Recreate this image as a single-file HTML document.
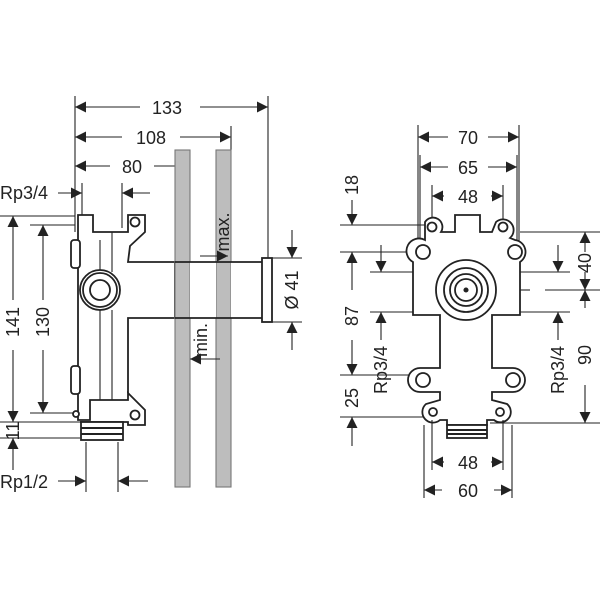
<!DOCTYPE html>
<html><head><style>
html,body{margin:0;padding:0;background:#fff;}
svg{display:block;}
text{font-family:"Liberation Sans",sans-serif;font-size:18px;fill:#222;}
</style></head><body>
<svg width="600" height="600" viewBox="0 0 600 600" xmlns="http://www.w3.org/2000/svg">
<defs>
<marker id="a" viewBox="0 0 10 10" refX="10" refY="5" markerWidth="14" markerHeight="11" orient="auto-start-reverse" markerUnits="userSpaceOnUse">
<path d="M0,0 L10,5 L0,10 z" fill="#222"/></marker>
</defs>
<g stroke="#222" stroke-width="1.1" fill="none">
<line x1="75" y1="96" x2="75" y2="232"/>
<line x1="268" y1="96" x2="268" y2="262"/>
<line x1="231" y1="126" x2="231" y2="150"/>
<line x1="82" y1="183" x2="82" y2="228"/>
<line x1="122" y1="183" x2="122" y2="228"/>
<line x1="75" y1="107" x2="140" y2="107" marker-start="url(#a)"/>
<line x1="200" y1="107" x2="268" y2="107" marker-end="url(#a)"/>
<line x1="75" y1="137" x2="122" y2="137" marker-start="url(#a)"/>
<line x1="180" y1="137" x2="231" y2="137" marker-end="url(#a)"/>
<line x1="75" y1="166" x2="110" y2="166" marker-start="url(#a)"/>
<line x1="154" y1="166" x2="190" y2="166" marker-end="url(#a)"/>
<line x1="58" y1="193" x2="82" y2="193" marker-end="url(#a)"/>
<line x1="150" y1="193" x2="122" y2="193" marker-end="url(#a)"/>
<line x1="0" y1="216" x2="75" y2="216"/>
<line x1="30" y1="225" x2="75" y2="225"/>
<line x1="30" y1="413" x2="80" y2="413"/>
<line x1="0" y1="422" x2="80" y2="422"/>
<line x1="0" y1="438" x2="80" y2="438"/>
<line x1="13" y1="300" x2="13" y2="216" marker-end="url(#a)"/>
<line x1="13" y1="350" x2="13" y2="422" marker-end="url(#a)"/>
<line x1="43" y1="300" x2="43" y2="225" marker-end="url(#a)"/>
<line x1="43" y1="350" x2="43" y2="413" marker-end="url(#a)"/>
<line x1="13" y1="470" x2="13" y2="438" marker-end="url(#a)"/>
<g stroke-width="1.8" fill="#fff">
<path d="M78,240 L78,420 L90,420 L90,400 L128,400 L128,393 L145,410 L145,425 L128,425 L128,422 L80,422"/>
<path d="M78,240 L78,215 L93,215 L93,232 L128,232 L128,215 L145,215 L145,232 L130,246 L128,262 L175,262 L175,318 L128,318 L128,393"/>
</g>
<rect x="175" y="150" width="15" height="337" fill="#bdbdbd" stroke="#777"/>
<rect x="216" y="150" width="15" height="337" fill="#bdbdbd" stroke="#777"/>
<g stroke-width="1.8" fill="#fff">
<rect x="190" y="262" width="26" height="56" stroke="none"/>
<rect x="231" y="262" width="32" height="56" stroke="none"/>
<line x1="175" y1="262" x2="263" y2="262"/>
<line x1="175" y1="318" x2="263" y2="318"/>
<rect x="262" y="258" width="10" height="64"/>
<circle cx="100" cy="290" r="20"/>
<circle cx="100" cy="290" r="17"/>
<circle cx="100" cy="290" r="10"/>
<circle cx="135" cy="222" r="4.5"/>
<circle cx="135" cy="415" r="4.5"/>
<rect x="71" y="240" width="9" height="28" rx="3"/>
<rect x="71" y="366" width="9" height="28" rx="3"/>
<circle cx="76" cy="414" r="3"/>
<rect x="81" y="422" width="42" height="18"/>
</g>
<line x1="81" y1="428" x2="123" y2="428" stroke-width="2"/>
<line x1="81" y1="434" x2="123" y2="434" stroke-width="2"/>
<line x1="100" y1="240" x2="100" y2="270"/>
<line x1="100" y1="310" x2="100" y2="400"/>
<line x1="112" y1="232" x2="112" y2="272"/>
<line x1="112" y1="310" x2="112" y2="400"/>
<line x1="86" y1="442" x2="86" y2="492"/>
<line x1="118" y1="442" x2="118" y2="492"/>
<line x1="58" y1="481" x2="86" y2="481" marker-end="url(#a)"/>
<line x1="148" y1="481" x2="118" y2="481" marker-end="url(#a)"/>
<line x1="200" y1="256" x2="228" y2="256" marker-end="url(#a)"/>
<line x1="220" y1="359" x2="190" y2="359" marker-end="url(#a)"/>
<line x1="272" y1="258" x2="302" y2="258"/>
<line x1="272" y1="322" x2="302" y2="322"/>
<line x1="292" y1="230" x2="292" y2="258" marker-end="url(#a)"/>
<line x1="292" y1="350" x2="292" y2="322" marker-end="url(#a)"/>

<line x1="418" y1="125" x2="418" y2="242"/>
<line x1="519" y1="125" x2="519" y2="242"/>
<line x1="420" y1="155" x2="420" y2="240"/>
<line x1="517" y1="155" x2="517" y2="240"/>
<line x1="432" y1="185" x2="432" y2="220"/>
<line x1="503" y1="185" x2="503" y2="220"/>
<line x1="418" y1="137" x2="448" y2="137" marker-start="url(#a)"/>
<line x1="488" y1="137" x2="519" y2="137" marker-end="url(#a)"/>
<line x1="420" y1="167" x2="448" y2="167" marker-start="url(#a)"/>
<line x1="488" y1="167" x2="517" y2="167" marker-end="url(#a)"/>
<line x1="432" y1="196" x2="444" y2="196" marker-start="url(#a)"/>
<line x1="491" y1="196" x2="503" y2="196" marker-end="url(#a)"/>
<line x1="340" y1="225" x2="425" y2="225"/>
<line x1="340" y1="252" x2="420" y2="252"/>
<line x1="370" y1="272" x2="440" y2="272"/>
<line x1="370" y1="312" x2="440" y2="312"/>
<line x1="340" y1="375" x2="412" y2="375"/>
<line x1="340" y1="417" x2="432" y2="417"/>
<line x1="352" y1="200" x2="352" y2="225" marker-end="url(#a)"/>
<line x1="352" y1="290" x2="352" y2="252" marker-end="url(#a)"/>
<line x1="352" y1="340" x2="352" y2="375" marker-end="url(#a)"/>
<line x1="352" y1="446" x2="352" y2="417" marker-end="url(#a)"/>
<line x1="381" y1="245" x2="381" y2="272" marker-end="url(#a)"/>
<line x1="381" y1="340" x2="381" y2="312" marker-end="url(#a)"/>
<line x1="520" y1="232" x2="600" y2="232"/>
<line x1="520" y1="290" x2="530" y2="290"/>
<line x1="545" y1="290" x2="600" y2="290"/>
<line x1="490" y1="423" x2="600" y2="423"/>
<line x1="495" y1="272" x2="570" y2="272"/>
<line x1="495" y1="312" x2="570" y2="312"/>
<line x1="585" y1="252" x2="585" y2="232" marker-end="url(#a)"/>
<line x1="585" y1="272" x2="585" y2="290" marker-end="url(#a)"/>
<line x1="585" y1="308" x2="585" y2="290" marker-end="url(#a)"/>
<line x1="585" y1="385" x2="585" y2="423" marker-end="url(#a)"/>
<line x1="558" y1="245" x2="558" y2="272" marker-end="url(#a)"/>
<line x1="558" y1="340" x2="558" y2="312" marker-end="url(#a)"/>
<g stroke-width="1.8" fill="#fff">
<path d="M413,262 L413,315 L440,315 L440,368 L420,368 A12,12 0 0 0 420,392 L440,392 L440,400 L426,404 A8,8 0 0 0 440,420 L447,420 L447,425 L487,425 L487,420 L494,420 A8,8 0 0 0 507,404 L492,400 L492,392 L513,392 A12,12 0 0 0 513,368 L492,368 L492,315 L520,315 L520,262 A12,12 0 0 0 515,240 L510,238 A8,8 0 0 0 496,222 L492,232 L480,232 L480,215 L455,215 L455,232 L441,232 A8,8 0 0 0 425,222 L425,240 A12,12 0 0 0 413,262 Z"/>
<circle cx="423" cy="252" r="7"/>
<circle cx="515" cy="252" r="7"/>
<circle cx="432" cy="227" r="4.5"/>
<circle cx="503" cy="227" r="4.5"/>
<circle cx="423" cy="380" r="7"/>
<circle cx="513" cy="380" r="7"/>
<circle cx="433" cy="412" r="4"/>
<circle cx="500" cy="412" r="4"/>
<circle cx="466" cy="290" r="30"/>
<circle cx="466" cy="290" r="22"/>
<circle cx="466" cy="290" r="16"/>
<circle cx="466" cy="290" r="11"/>
<rect x="447" y="425" width="40" height="13"/>
</g>
<circle cx="466" cy="290" r="2" fill="#222"/>
<line x1="447" y1="430" x2="487" y2="430" stroke-width="2"/>
<line x1="447" y1="434" x2="487" y2="434" stroke-width="2"/>
<line x1="432" y1="420" x2="432" y2="470"/>
<line x1="503" y1="420" x2="503" y2="470"/>
<line x1="424" y1="425" x2="424" y2="498"/>
<line x1="512" y1="425" x2="512" y2="498"/>
<line x1="432" y1="462" x2="444" y2="462" marker-start="url(#a)"/>
<line x1="491" y1="462" x2="503" y2="462" marker-end="url(#a)"/>
<line x1="424" y1="490" x2="442" y2="490" marker-start="url(#a)"/>
<line x1="494" y1="490" x2="512" y2="490" marker-end="url(#a)"/>
</g>
<text x="167" y="114" text-anchor="middle">133</text>
<text x="151" y="144" text-anchor="middle">108</text>
<text x="132" y="173" text-anchor="middle">80</text>
<text x="0" y="199">Rp3/4</text>
<text x="0" y="488">Rp1/2</text>
<text transform="translate(19,322) rotate(-90)" text-anchor="middle">141</text>
<text transform="translate(49,322) rotate(-90)" text-anchor="middle">130</text>
<text transform="translate(19,431) rotate(-90)" text-anchor="middle" font-size="14">11</text>
<text transform="translate(298,290) rotate(-90)" text-anchor="middle">Ø 41</text>
<text transform="translate(229,232) rotate(-90)" text-anchor="middle" font-size="15">max.</text>
<text transform="translate(207,340) rotate(-90)" text-anchor="middle" font-size="15">min.</text>
<text x="468" y="144" text-anchor="middle">70</text>
<text x="468" y="174" text-anchor="middle">65</text>
<text x="468" y="203" text-anchor="middle">48</text>
<text x="468" y="469" text-anchor="middle">48</text>
<text x="468" y="497" text-anchor="middle">60</text>
<text transform="translate(358,185) rotate(-90)" text-anchor="middle">18</text>
<text transform="translate(358,316) rotate(-90)" text-anchor="middle">87</text>
<text transform="translate(358,398) rotate(-90)" text-anchor="middle">25</text>
<text transform="translate(387,370) rotate(-90)" text-anchor="middle">Rp3/4</text>
<text transform="translate(564,370) rotate(-90)" text-anchor="middle">Rp3/4</text>
<text transform="translate(591,263) rotate(-90)" text-anchor="middle">40</text>
<text transform="translate(591,355) rotate(-90)" text-anchor="middle">90</text>
</svg>
</body></html>
